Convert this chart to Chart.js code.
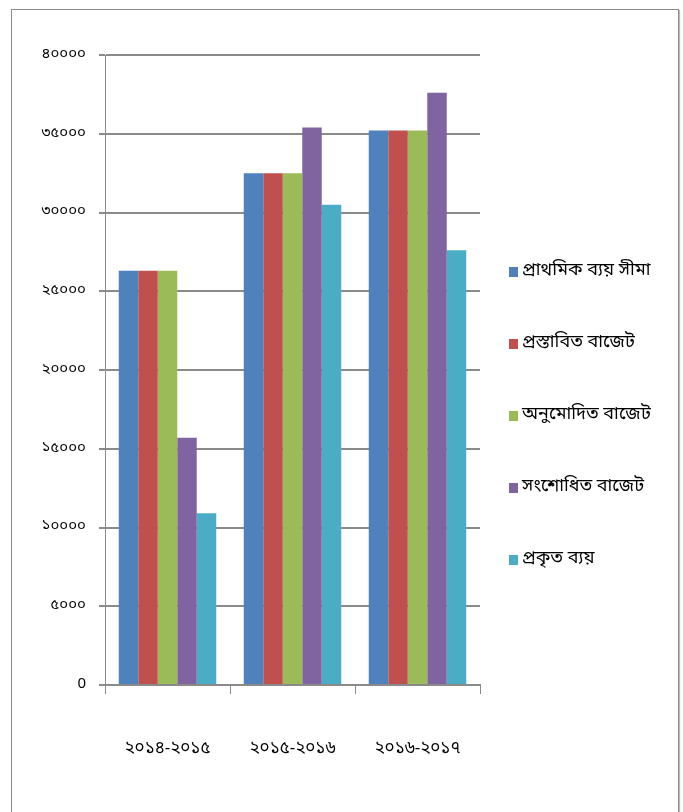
<!DOCTYPE html>
<html>
<head>
<meta charset="utf-8">
<script src="https://cdn.jsdelivr.net/npm/chart.js@4"></script>
<style>
  html, body { margin: 0; padding: 0; background: #fff; }
  #wrap { position: relative; width: 683px; height: 812px; overflow: hidden; }
  #frame {
    position: absolute; left: 11px; top: 9px; width: 666px; height: 830px;
    border: 1px solid #8a8a8a; box-shadow: 1px 1px 1px #bbb;
  }
  canvas { position: absolute; left: 0; top: 0; }
</style>
</head>
<body>
<div id="wrap">
  <div id="frame"></div>
  <canvas id="chart" width="683" height="812"></canvas>
</div>
<script>
/* ===== DATA ===== */
const categories = ["২০১৪-২০১৫", "২০১৫-২০১৬", "২০১৬-২০১৭"];
const seriesNames = ["প্রাথমিক ব্যয় সীমা", "প্রস্তাবিত বাজেট", "অনুমোদিত বাজেট", "সংশোধিত বাজেট", "প্রকৃত ব্যয়"];

const initialLimit = [26300, 32500, 35200];
const proposedBudget = [26300, 32500, 35200];
const approvedBudget = [26300, 32500, 35200];
const revisedBudget = [15700, 35400, 37600];
const actualSpend = [10900, 30500, 27600];

const yTickLabels = ["0", "৫০০০", "১০০০০", "১৫০০০", "২০০০০", "২৫০০০", "৩০০০০", "৩৫০০০", "৪০০০০"];

const colors = ["#4F81BD", "#C0504D", "#9BBB59", "#8064A2", "#4BACC6"];

const FONT = "'Noto Sans Bengali', 'Lohit Bengali', 'Vrinda', 'Noto Sans', sans-serif";

/* ===== LEGEND (drawn on canvas) ===== */
const sideLegend = {
  id: "sideLegend",
  afterDraw(chart) {
    const ctx = chart.ctx;
    ctx.save();
    ctx.font = "18px " + FONT;
    ctx.textBaseline = "middle";
    ctx.textAlign = "left";
    chart.data.datasets.forEach((ds, i) => {
      const y = 272 + i * 72;
      ctx.fillStyle = ds.backgroundColor;
      ctx.fillRect(509, y - 5, 9, 10);
      ctx.fillStyle = "#000";
      ctx.fillText(ds.label, 522, y);
    });
    ctx.restore();
  }
};

const allSeries = [initialLimit, proposedBudget, approvedBudget, revisedBudget, actualSpend];

new Chart(document.getElementById("chart"), {
  type: "bar",
  data: {
    labels: categories,
    datasets: allSeries.map((s, i) => ({
      label: seriesNames[i],
      data: s,
      backgroundColor: colors[i],
      borderWidth: 0,
      categoryPercentage: 0.78,
      barPercentage: 1.0
    }))
  },
  options: {
    responsive: false,
    animation: false,
    layout: { padding: { left: 0, right: 203, top: 55, bottom: 0 } },
    plugins: {
      legend: { display: false },
      tooltip: { enabled: false }
    },
    scales: {
      x: {
        grid: {
          offset: true,
          drawOnChartArea: false,
          color: "#8a8a8a",
          tickLength: 9,
          lineWidth: 1
        },
        border: { color: "#8a8a8a", width: 2 },
        ticks: {
          color: "#000",
          padding: 46,
          font: { family: FONT, size: 17 }
        },
        afterFit(scale) { scale.height = 127; }
      },
      y: {
        min: 0,
        max: 40000,
        ticks: {
          stepSize: 5000,
          color: "#000",
          padding: 13,
          font: { family: FONT, size: 15 },
          callback: (v, i) => yTickLabels[i]
        },
        grid: {
          color: "#8a8a8a",
          lineWidth: 2,
          tickLength: 6
        },
        border: { color: "#8a8a8a", width: 1 },
        afterFit(scale) { scale.width = 105; }
      }
    }
  },
  plugins: [sideLegend]
});
</script>
</body>
</html>
